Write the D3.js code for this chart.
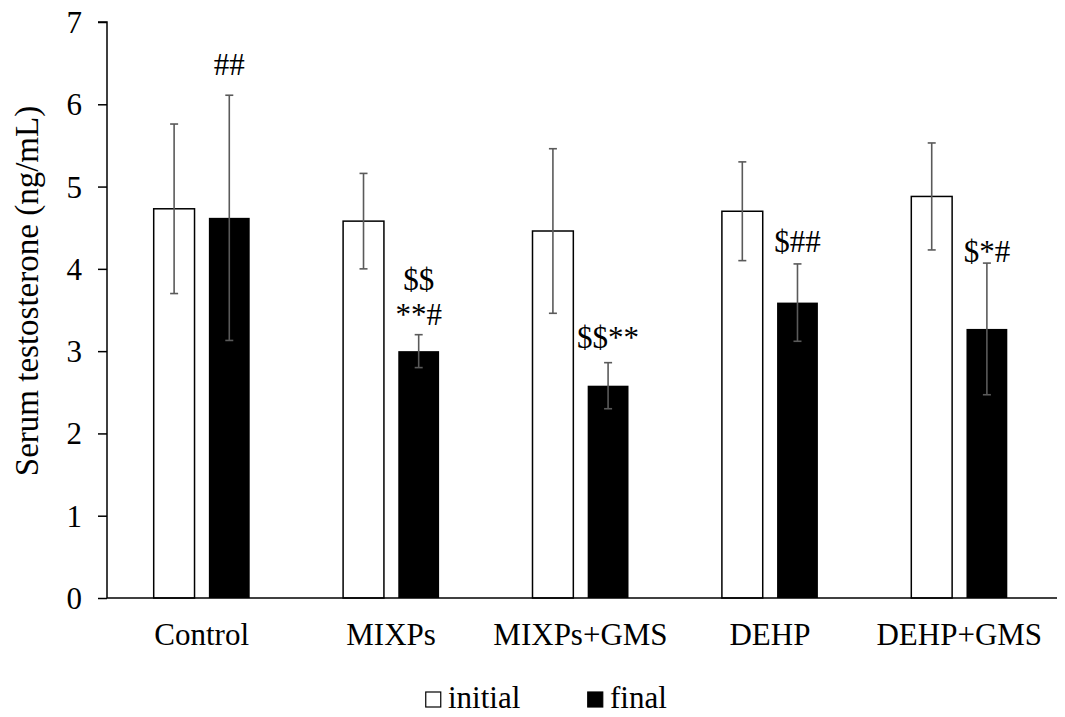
<!DOCTYPE html>
<html>
<head>
<meta charset="utf-8">
<script src="https://cdn.jsdelivr.net/npm/d3@7"></script>
<style>
  body { margin: 0; background: #fff; }
  svg text { font-family: "Liberation Serif", "Times New Roman", serif; fill: #000; }
</style>
</head>
<body>
<div id="chart"></div>
<script>
const groups = ['Control', 'MIXPs', 'MIXPs+GMS', 'DEHP', 'DEHP+GMS'];
const seriesNames = ['initial', 'final'];
const initialMean = [4.73, 4.58, 4.46, 4.70, 4.88];
const initialErr = [1.03, 0.58, 1.00, 0.60, 0.65];
const finalMean = [4.62, 3.00, 2.58, 3.59, 3.27];
const finalErr = [1.49, 0.20, 0.28, 0.47, 0.80];
// significance marks above the final bars, one list of lines per group
const finalMarks = [['##'], ['$$', '**#'], ['$$**'], ['$##'], ['$*#']];
// level (ng/mL) where the lowest line of each mark sits
const markLevel = [6.36, 3.32, 3.04, 4.20, 4.08];
const yTicks = [0, 1, 2, 3, 4, 5, 6, 7];

const width = 1065, height = 717;
const margin = {top: 22, right: 8, bottom: 119, left: 107};

const svg = d3.select('#chart').append('svg')
    .attr('width', width)
    .attr('height', height);

const x0 = d3.scaleBand()
    .domain(groups)
    .range([margin.left, width - margin.right - 3]);

const x1 = d3.scaleBand()
    .domain(seriesNames)
    .range([-48, 48])
    .paddingInner(0.26);

const y = d3.scaleLinear()
    .domain([0, 7])
    .range([height - margin.bottom, margin.top]);

// y axis
const yAxis = d3.axisLeft(y)
    .tickValues(yTicks)
    .tickSize(9)
    .tickPadding(16)
    .tickFormat(d3.format('d'));

svg.append('g')
    .attr('class', 'y axis')
    .attr('transform', 'translate(' + margin.left + ',0)')
    .call(yAxis)
    .call(g => g.selectAll('path, line').attr('stroke', '#000').attr('stroke-width', 1.5))
    .call(g => g.select('.domain').attr('d', 'M-9,' + y(7) + 'H0V' + y(0)))
    .selectAll('text')
        .style('font-size', '31px')
        .attr('dy', '0.34em');

// rows of data per group
const rows = groups.map(function(g, i){
    return [
        {group: g, series: 'initial', mean: initialMean[i], err: initialErr[i]},
        {group: g, series: 'final', mean: finalMean[i], err: finalErr[i]}
    ];
});

const groupSel = svg.selectAll('.group')
        .data(rows)
    .enter().append('g')
        .attr('class', 'group')
        .attr('transform', function(d){
            return 'translate(' + (x0(d[0].group) + x0.bandwidth() / 2) + ',0)';
        });

// bars
groupSel.selectAll('rect')
        .data(function(d){ return d; })
    .enter().append('rect')
        .attr('x', function(d){ return x1(d.series); })
        .attr('width', x1.bandwidth())
        .attr('y', function(d){ return y(d.mean); })
        .attr('height', function(d){ return y(0) - y(d.mean); })
        .style('fill', function(d){ return d.series === 'initial' ? '#fff' : '#000'; })
        .style('stroke', '#000')
        .style('stroke-width', function(d){ return d.series === 'initial' ? 1.5 : 0; });

// error bars
const errSel = groupSel.selectAll('.err')
        .data(function(d){ return d; })
    .enter().append('g')
        .attr('class', 'err')
        .attr('transform', function(d){
            return 'translate(' + (x1(d.series) + x1.bandwidth() / 2) + ',0)';
        })
        .style('stroke', '#5a5a5a')
        .style('stroke-width', 1.6);

errSel.append('line')
    .attr('x1', 0).attr('x2', 0)
    .attr('y1', function(d){ return y(d.mean + d.err); })
    .attr('y2', function(d){ return y(d.mean - d.err); });

errSel.append('line')
    .attr('x1', -4).attr('x2', 4)
    .attr('y1', function(d){ return y(d.mean + d.err); })
    .attr('y2', function(d){ return y(d.mean + d.err); });

errSel.append('line')
    .attr('x1', -4).attr('x2', 4)
    .attr('y1', function(d){ return y(d.mean - d.err); })
    .attr('y2', function(d){ return y(d.mean - d.err); });

// x axis line
svg.append('line')
    .attr('x1', margin.left)
    .attr('x2', width - margin.right)
    .attr('y1', y(0))
    .attr('y2', y(0))
    .style('stroke', '#000')
    .style('stroke-width', 1.5);

// significance marks
groupSel.each(function(d, i){
    const lines = finalMarks[i];
    const cx = x1('final') + x1.bandwidth() / 2;
    d3.select(this).selectAll('.mark')
            .data(lines)
        .enter().append('text')
            .attr('class', 'mark')
            .attr('x', cx)
            .attr('y', function(t, j){ return y(markLevel[i]) - (lines.length - 1 - j) * 35; })
            .attr('text-anchor', 'middle')
            .style('font-size', '31px')
            .text(function(t){ return t; });
});

// category labels
svg.selectAll('.cat')
        .data(groups)
    .enter().append('text')
        .attr('class', 'cat')
        .attr('x', function(d){ return x0(d) + x0.bandwidth() / 2; })
        .attr('y', y(0) + 47)
        .attr('text-anchor', 'middle')
        .style('font-size', '31px')
        .text(function(d){ return d; });

// y title
svg.append('text')
    .attr('transform', 'translate(38,291) rotate(-90)')
    .attr('text-anchor', 'middle')
    .style('font-size', '33px')
    .text('Serum testosterone (ng/mL)');

// legend
const legend = svg.append('g')
    .attr('transform', 'translate(425,708)');

const legendItems = legend.selectAll('.leg')
        .data(seriesNames)
    .enter().append('g')
        .attr('class', 'leg')
        .attr('transform', function(d, i){ return 'translate(' + (i * 162) + ',0)'; });

legendItems.append('rect')
    .attr('x', 0.75)
    .attr('y', -16)
    .attr('width', 15)
    .attr('height', 15)
    .style('fill', function(d){ return d === 'initial' ? '#fff' : '#000'; })
    .style('stroke', '#000')
    .style('stroke-width', 1.2);

legendItems.append('text')
    .attr('x', 23)
    .attr('y', 0)
    .style('font-size', '31px')
    .text(function(d){ return d; });
</script>
</body>
</html>
